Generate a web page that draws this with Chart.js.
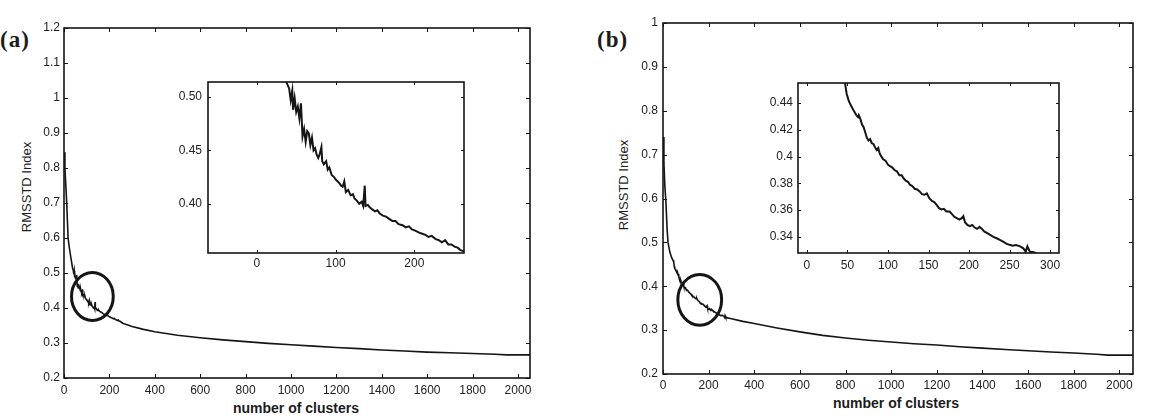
<!DOCTYPE html>
<html>
<head>
<meta charset="utf-8">
<script src="https://cdn.jsdelivr.net/npm/chart.js@4.4.1/dist/chart.umd.min.js"></script>
<style>
  body { margin: 0; background: #fff; width: 1168px; height: 419px; position: relative; overflow: hidden;
         font-family: "Liberation Sans", Arial, sans-serif; color: #1c1c1c; }
  canvas { position: absolute; }
  .tag { position: absolute; font-family: "Liberation Serif", serif; font-size: 23px; font-weight: bold; letter-spacing: 1px; }
  .ytitle { position: absolute; font-size: 13px; white-space: nowrap; transform: translate(-50%, -50%) rotate(-90deg); }
  .xtitle { position: absolute; font-size: 14px; font-weight: bold; white-space: nowrap; transform: translate(-50%, -50%); }
</style>
</head>
<body>
<div class="tag" style="left:0px;top:27px">(a)</div>
<div class="tag" style="left:597px;top:27px">(b)</div>
<div class="ytitle" style="left:26px;top:187px">RMSSTD Index</div>
<div class="ytitle" style="left:623px;top:185px">RMSSTD Index</div>
<div class="xtitle" style="left:296px;top:408px">number of clusters</div>
<div class="xtitle" style="left:896px;top:403px">number of clusters</div>
<canvas id="mainA"></canvas>
<canvas id="mainB"></canvas>
<canvas id="insetA"></canvas>
<canvas id="insetB"></canvas>
<script>
// panel (a): number of clusters vs RMSSTD index
var clustersA = [1, 4, 8, 12, 15, 18, 24, 30, 35, 38, 41, 43, 45, 46, 48, 50, 52, 54, 56, 58,
  60, 62, 64, 66, 68, 70, 72, 74, 76, 78, 80, 82, 83, 85, 88, 90, 92, 95, 98, 101,
  104, 107, 109, 111, 113, 116, 119, 122, 124, 127, 130, 133, 135, 137, 138, 141, 143, 146, 150, 153,
  156, 160, 164, 168, 172, 176, 180, 185, 189, 193, 197, 201, 206, 210, 214, 218, 222, 227, 231, 235,
  239, 243, 247, 251, 255, 258, 261, 265, 300, 350, 400, 450, 500, 600, 700, 800, 900, 1000, 1100, 1200,
  1300, 1400, 1500, 1600, 1700, 1800, 1900, 1950, 2000, 2053];
var rmsstdA = [0.845, 0.80, 0.75, 0.70, 0.65, 0.60, 0.57, 0.545, 0.525, 0.513, 0.508, 0.497, 0.506, 0.488, 0.499, 0.486, 0.491, 0.480, 0.494, 0.463,
  0.470, 0.458, 0.468, 0.466, 0.455, 0.462, 0.450, 0.452, 0.446, 0.443, 0.447, 0.453, 0.440, 0.437, 0.440, 0.432, 0.434, 0.427, 0.425, 0.422,
  0.420, 0.417, 0.416, 0.421, 0.411, 0.413, 0.408, 0.409, 0.405, 0.403, 0.400, 0.402, 0.398, 0.417, 0.398, 0.399, 0.397, 0.395, 0.393, 0.394,
  0.391, 0.389, 0.388, 0.386, 0.384, 0.384, 0.381, 0.380, 0.378, 0.379, 0.376, 0.375, 0.373, 0.372, 0.371, 0.369, 0.370, 0.367, 0.366, 0.364,
  0.366, 0.362, 0.362, 0.360, 0.359, 0.357, 0.356, 0.355, 0.347, 0.339, 0.332, 0.327, 0.322, 0.315, 0.309, 0.304, 0.299, 0.295, 0.291, 0.287,
  0.284, 0.280, 0.277, 0.274, 0.272, 0.270, 0.268, 0.266, 0.266, 0.266];

// panel (b)
var clustersB = [1, 4, 8, 13, 18, 22, 30, 38, 44, 47, 49, 50, 52, 55, 58, 61, 63, 64, 66, 68,
  70, 72, 74, 76, 78, 80, 82, 84, 86, 88, 90, 92, 94, 97, 100, 102, 105, 108, 111, 114,
  117, 119, 122, 125, 127, 130, 133, 136, 139, 142, 145, 148, 151, 154, 157, 160, 163, 166, 169, 172,
  176, 179, 182, 185, 188, 191, 193, 195, 198, 201, 204, 207, 210, 213, 216, 219, 222, 226, 230, 234,
  238, 242, 246, 250, 254, 258, 263, 267, 270, 272, 275, 280, 285, 290, 295, 300, 350, 400, 450, 500,
  600, 700, 800, 900, 1000, 1100, 1200, 1300, 1400, 1500, 1600, 1700, 1800, 1900, 1950, 2000, 2060];
var rmsstdB = [0.74, 0.68, 0.63, 0.59, 0.53, 0.50, 0.478, 0.465, 0.459, 0.455, 0.447, 0.445, 0.441, 0.4375, 0.434, 0.431, 0.4295, 0.431, 0.428, 0.424,
  0.422, 0.418, 0.414, 0.412, 0.413, 0.410, 0.4095, 0.407, 0.405, 0.4065, 0.402, 0.400, 0.398, 0.397, 0.394, 0.393, 0.392, 0.390, 0.389, 0.386,
  0.386, 0.384, 0.382, 0.381, 0.379, 0.378, 0.376, 0.3755, 0.374, 0.372, 0.3715, 0.3725, 0.369, 0.367, 0.366, 0.364, 0.3615, 0.3605, 0.361, 0.359,
  0.359, 0.357, 0.355, 0.354, 0.353, 0.354, 0.3555, 0.351, 0.349, 0.348, 0.349, 0.347, 0.346, 0.3475, 0.346, 0.344, 0.343, 0.3415, 0.340, 0.339,
  0.3378, 0.3365, 0.335, 0.3341, 0.3335, 0.334, 0.333, 0.3315, 0.329, 0.333, 0.329, 0.3285, 0.327, 0.3275, 0.3265, 0.326, 0.320, 0.315, 0.310, 0.305,
  0.296, 0.288, 0.282, 0.277, 0.273, 0.269, 0.266, 0.262, 0.259, 0.256, 0.253, 0.250, 0.248, 0.245, 0.243, 0.243, 0.243];

// circled region on each main plot (data units)
var ringA = { x: 125, y: 0.433, rx: 92, ry: 0.0686 };
var ringB = { x: 161, y: 0.369, rx: 96, ry: 0.058 };

var ink = '#151515';

// matlab style box with inward ticks, plus optional ellipse
var boxTicks = {
  id: 'boxTicks',
  beforeDraw: function(chart) {
    var a = chart.chartArea, ctx = chart.ctx;
    ctx.save();
    ctx.fillStyle = '#fff';
    ctx.fillRect(a.left, a.top, a.right - a.left, a.bottom - a.top);
    ctx.restore();
  },
  afterDraw: function(chart, args, opts) {
    var ctx = chart.ctx, a = chart.chartArea, x = chart.scales.x, y = chart.scales.y;
    var t = opts.len;
    ctx.save();
    ctx.strokeStyle = ink;
    ctx.lineWidth = 1;
    ctx.beginPath();
    x.ticks.forEach(function(tk) {
      var px = Math.round(x.getPixelForValue(tk.value)) + 0.5;
      ctx.moveTo(px, a.bottom); ctx.lineTo(px, a.bottom - t);
      ctx.moveTo(px, a.top); ctx.lineTo(px, a.top + t);
    });
    y.ticks.forEach(function(tk) {
      var py = Math.round(y.getPixelForValue(tk.value)) + 0.5;
      ctx.moveTo(a.left, py); ctx.lineTo(a.left + t, py);
      ctx.moveTo(a.right, py); ctx.lineTo(a.right - t, py);
    });
    ctx.stroke();
    ctx.lineWidth = opts.box;
    ctx.strokeRect(a.left, a.top, a.right - a.left, a.bottom - a.top);
    if (opts.ring) {
      var r = opts.ring;
      var cx = x.getPixelForValue(r.x), cy = y.getPixelForValue(r.y);
      var rx = Math.abs(x.getPixelForValue(r.x + r.rx) - cx);
      var ry = Math.abs(y.getPixelForValue(r.y + r.ry) - cy);
      ctx.lineWidth = 3;
      ctx.beginPath();
      ctx.ellipse(cx, cy, rx, ry, 0, 0, Math.PI * 2);
      ctx.stroke();
    }
    ctx.restore();
  }
};

function fmtTrim(v) { return String(+v.toFixed(2)); }
function fmtTwo(v) { return v.toFixed(2); }
function fmtInt(v) { return String(Math.round(v)); }

function makeChart(id, area, m, xs, ys, sc) {
  var cv = document.getElementById(id);
  var w = area.r - area.l + m.l + m.r;
  var h = area.b - area.t + m.t + m.b;
  cv.width = w; cv.height = h;
  cv.style.width = w + 'px'; cv.style.height = h + 'px';
  cv.style.left = (area.l - m.l) + 'px';
  cv.style.top = (area.t - m.t) + 'px';

  var pts = xs.map(function(v, i) { return { x: v, y: ys[i] }; });
  var tickFont = { family: 'Liberation Sans', size: 12 };

  return new Chart(cv, {
    type: 'scatter',
    data: { datasets: [{ data: pts, showLine: true, borderColor: ink, borderWidth: sc.lw,
                         pointRadius: 0, tension: 0 }] },
    options: {
      responsive: false,
      animation: false,
      layout: { padding: { top: m.t, right: m.r, left: 0, bottom: 0 } },
      plugins: { legend: { display: false }, tooltip: { enabled: false },
                 boxTicks: { len: sc.tick, box: sc.box, ring: sc.ring } },
      scales: {
        x: {
          type: 'linear', min: sc.xmin, max: sc.xmax,
          grid: { display: false, drawTicks: false }, border: { display: false },
          ticks: { stepSize: sc.xstep, includeBounds: false, padding: sc.xpad, color: '#222',
                   font: tickFont, maxRotation: 0, autoSkip: false, callback: fmtInt },
          afterFit: function(s) { s.height = m.b; }
        },
        y: {
          type: 'linear', min: sc.ymin, max: sc.ymax,
          grid: { display: false, drawTicks: false }, border: { display: false },
          ticks: { stepSize: sc.ystep, includeBounds: false, padding: sc.ypad, color: '#222',
                   font: tickFont, autoSkip: false, callback: sc.fmt },
          afterFit: function(s) { s.width = m.l; }
        }
      }
    },
    plugins: [boxTicks]
  });
}

makeChart('mainA', { l: 64, t: 28, r: 530, b: 378 }, { l: 64, t: 28, r: 10, b: 41 },
  clustersA, rmsstdA,
  { xmin: 0, xmax: 2053, xstep: 200, ymin: 0.2, ymax: 1.2, ystep: 0.1, fmt: fmtTrim,
    xpad: 5, ypad: 4, lw: 1.6, tick: 4, box: 1.6, ring: ringA });

makeChart('mainB', { l: 663, t: 23, r: 1133, b: 374 }, { l: 58, t: 23, r: 14, b: 45 },
  clustersB, rmsstdB,
  { xmin: 0, xmax: 2060, xstep: 200, ymin: 0.2, ymax: 1.0, ystep: 0.1, fmt: fmtTrim,
    xpad: 4, ypad: 5, lw: 1.6, tick: 4, box: 1.6, ring: ringB });

makeChart('insetA', { l: 208, t: 82, r: 464, b: 253 }, { l: 40, t: 14, r: 10, b: 22 },
  clustersA, rmsstdA,
  { xmin: -62, xmax: 263, xstep: 100, ymin: 0.354, ymax: 0.514, ystep: 0.05, fmt: fmtTwo,
    xpad: 3, ypad: 6, lw: 2, tick: 3, box: 1.6 });

makeChart('insetB', { l: 798, t: 83, r: 1059, b: 253 }, { l: 38, t: 14, r: 12, b: 24 },
  clustersB, rmsstdB,
  { xmin: -11, xmax: 311, xstep: 50, ymin: 0.328, ymax: 0.455, ystep: 0.02, fmt: fmtTrim,
    xpad: 5, ypad: 5, lw: 2, tick: 3, box: 1.6 });
</script>
</body>
</html>
